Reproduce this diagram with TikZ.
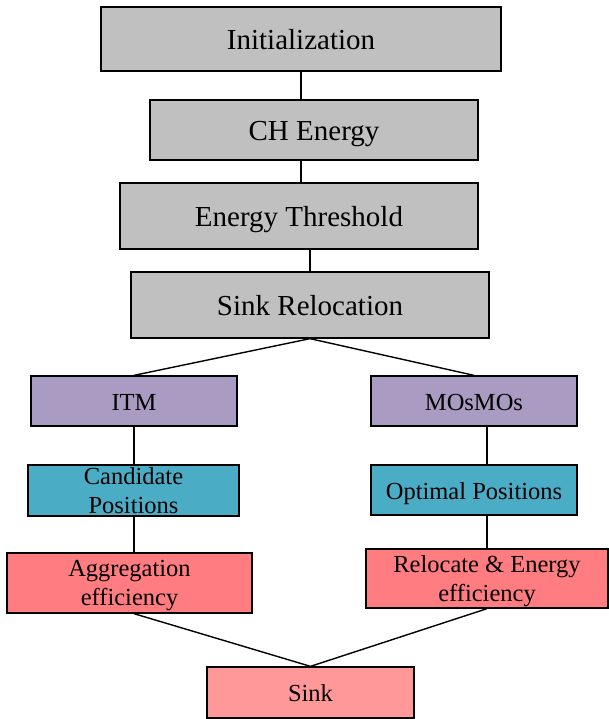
\documentclass[tikz,border=0pt]{standalone}
\usepackage{fontspec}
\setmainfont{Liberation Serif}
\definecolor{boxgray}{HTML}{C0C0C0}
\definecolor{boxpurple}{HTML}{A99BC1}
\definecolor{boxteal}{HTML}{4BACC6}
\definecolor{boxred}{HTML}{FF7C80}
\definecolor{boxpink}{HTML}{FF9999}
\begin{document}
\begin{tikzpicture}[x=1pt,y=-1pt,
  base/.style={draw=black, line width=1.3pt, rectangle, inner sep=0pt, align=center, text=black},
  bigbox/.style={base, fill=boxgray, font=\fontsize{29}{34}\selectfont, text height=21pt, text depth=0pt},
  smallbox/.style={base, font=\fontsize{24.5}{29}\selectfont, text height=18pt, text depth=0pt},
  twoline/.style={text height=45pt, text depth=0pt},
  conn/.style={draw=black, line width=1.4pt}]
\useasboundingbox (0,0) rectangle (608,719);
\node[bigbox, minimum width=400, minimum height=64] (init) at (301,39) {Initialization};
\node[bigbox, minimum width=328, minimum height=60] (ch) at (314,130) {CH Energy};
\node[bigbox, minimum width=358, minimum height=66] (et) at (299,216) {Energy Threshold};
\node[bigbox, minimum width=358, minimum height=66] (sr) at (310,305) {Sink Relocation};
\node[smallbox, fill=boxpurple, minimum width=206, minimum height=50] (itm) at (134,401) {ITM};
\node[smallbox, fill=boxpurple, minimum width=206, minimum height=50] (mos) at (474,401) {MOsMOs};
\node[smallbox, twoline, fill=boxteal, minimum width=211, minimum height=51] (cand) at (133.5,490.5) {Candidate\\Positions};
\node[smallbox, fill=boxteal, minimum width=206, minimum height=50] (opt) at (474,490) {Optimal Positions};
\node[smallbox, twoline, fill=boxred, minimum width=245, minimum height=60] (agg) at (129.5,583) {Aggregation\\efficiency};
\node[smallbox, twoline, fill=boxred, minimum width=242, minimum height=59] (rel) at (487,578.5) {Relocate \& Energy\\efficiency};
\node[smallbox, fill=boxpink, minimum width=207, minimum height=51] (sink) at (310.5,692.5) {Sink};
\draw[conn] (init.south) -- (init.south |- ch.north);
\draw[conn] (ch.south -| init.south) -- (et.north -| init.south);
\draw[conn] (sr.north |- et.south) -- (sr.north);
\draw[conn] (sr.south) -- (itm.north);
\draw[conn] (sr.south) -- (mos.north);
\draw[conn] (itm.south) -- (itm.south |- cand.north);
\draw[conn] (cand.south -| itm.south) -- (agg.north -| itm.south);
\draw[conn] (mos.south -| rel.north) -- (opt.north -| rel.north);
\draw[conn] (opt.south -| rel.north) -- (rel.north);
\draw[conn] (agg.south -| itm.south) -- (sink.north);
\draw[conn] (rel.south) -- (sink.north);
\end{tikzpicture}
\end{document}
